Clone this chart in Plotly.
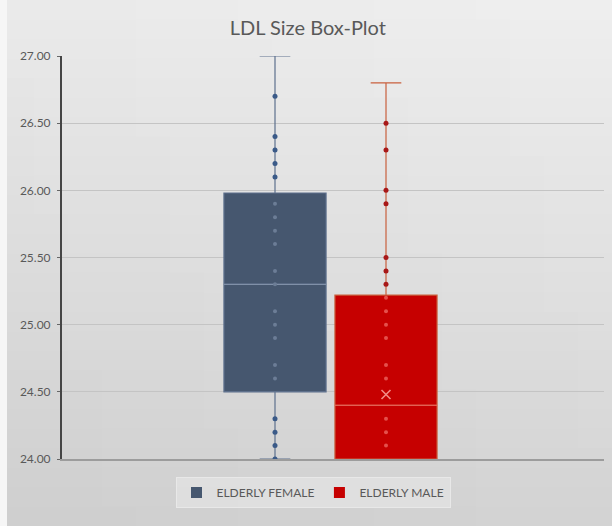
import plotly.graph_objects as go

# ---- data -------------------------------------------------------------
groups = ["ELDERLY FEMALE", "ELDERLY MALE"]

female_points = [26.7, 26.4, 26.3, 26.2, 26.1, 25.9, 25.8, 25.7, 25.6, 25.4,
                 25.3, 25.1, 25.0, 24.9, 24.7, 24.6, 24.3, 24.2, 24.1, 24.0]
male_points = [26.5, 26.3, 26.0, 25.9, 25.5, 25.4, 25.3, 25.2, 25.1, 25.0,
               24.9, 24.7, 24.6, 24.3, 24.2, 24.1]

# box statistics: [female, male]
q1_vals = [24.50, 24.00]
median_vals = [25.30, 24.40]
q3_vals = [25.98, 25.22]
lower_vals = [24.00, 24.00]
upper_vals = [27.00, 26.80]
male_mean = 24.48

y_ticks = [24.0, 24.5, 25.0, 25.5, 26.0, 26.5, 27.0]

# ---- styling ----------------------------------------------------------
W, H = 612, 526
ML, MR, MT, MB = 62, 8, 56, 67
positions = [-0.5, 0.5]
box_w = 0.92
fills = ["#46576F", "#C60000"]
edge = ["#5E718E", "#C9603E"]
median_col = ["#8090A8", "#EC6A60"]
dot_out = ["#3A5A88", "#A81818"]
dot_in = ["#6C7D96", "#E4504C"]
text_col = "#595959"
font_fam = "Lato, 'Open Sans', Arial, sans-serif"

fig = go.Figure()

# soft diagonal grey gradient behind everything
pw, ph = W - ML - MR, H - MT - MB
cols, rows = 18, 27
shapes = []
for i in range(cols):
    for j in range(rows):
        x0p, x1p = i * W / cols, (i + 1) * W / cols
        y0p, y1p = j * H / rows, (j + 1) * H / rows  # from top
        cx, cy = (x0p + x1p) / 2 / W, (y0p + y1p) / 2 / H
        v = int(round(234 + 5 * cx - 28 * cy))
        shapes.append(dict(
            type="rect", xref="paper", yref="paper", layer="below",
            x0=(x0p - ML) / pw, x1=(x1p + 1 - ML) / pw,
            y0=(H - MB - y1p - 1) / ph, y1=(H - MB - y0p) / ph,
            fillcolor=f"rgb({v},{v},{v})", line=dict(width=0),
        ))
# thin pale strip on the left edge
shapes.append(dict(type="rect", xref="paper", yref="paper", layer="below",
                   x0=-ML / pw, x1=(7 - ML) / pw, y0=-MB / ph, y1=(H - MB) / ph,
                   fillcolor="#F6F6F6", line=dict(width=0)))

# boxes
for k in range(2):
    fig.add_trace(go.Box(
        x=[positions[k]], q1=[q1_vals[k]], median=[median_vals[k]],
        q3=[q3_vals[k]], lowerfence=[lower_vals[k]], upperfence=[upper_vals[k]],
        width=box_w, whiskerwidth=0.3, fillcolor=fills[k],
        line=dict(color=edge[k], width=1.2), boxpoints=False,
        showlegend=False, hoverinfo="skip",
    ))

# median lines
for k in range(2):
    fig.add_trace(go.Scatter(
        x=[positions[k] - box_w / 2, positions[k] + box_w / 2],
        y=[median_vals[k]] * 2, mode="lines",
        line=dict(color=median_col[k], width=1.2),
        showlegend=False, hoverinfo="skip",
    ))

# data points: darker outside the box, faint inside it
for k, pts in enumerate([female_points, male_points]):
    outside = [p for p in pts if p > q3_vals[k] or p < q1_vals[k]]
    inside = [p for p in pts if q1_vals[k] <= p <= q3_vals[k]]
    fig.add_trace(go.Scatter(
        x=[positions[k]] * len(outside), y=outside, mode="markers",
        marker=dict(color=dot_out[k], size=5), showlegend=False,
    ))
    fig.add_trace(go.Scatter(
        x=[positions[k]] * len(inside), y=inside, mode="markers",
        marker=dict(color=dot_in[k], size=4), showlegend=False,
    ))

# mean marker for the male group
fig.add_trace(go.Scatter(
    x=[positions[1]], y=[male_mean], mode="markers",
    marker=dict(symbol="x-thin-open", size=9, color="#F28C86",
                line=dict(color="#F28C86", width=1.6)),
    showlegend=False,
))

# legend entries
for k in range(2):
    fig.add_trace(go.Scatter(
        x=[None], y=[None], mode="markers", name=groups[k],
        marker=dict(symbol="square", size=11, color=fills[k]),
    ))

fig.update_layout(
    width=W, height=H,
    margin=dict(l=ML, r=MR, t=MT, b=MB, pad=0),
    paper_bgcolor="#E2E2E2", plot_bgcolor="rgba(0,0,0,0)",
    shapes=shapes,
    title=dict(text="LDL Size Box-Plot", x=0.503, xanchor="center",
               y=1 - 28 / H, yanchor="middle", yref="container",
               font=dict(family=font_fam, size=20, color=text_col)),
    font=dict(family=font_fam, color=text_col),
    legend=dict(orientation="h", x=(313 - ML) / pw, xanchor="center",
                y=-18 / ph, yanchor="top",
                bgcolor="rgba(228,228,228,0.7)", bordercolor="#E8E8E8",
                borderwidth=1, font=dict(size=12, color=text_col),
                itemwidth=30),
    showlegend=True,
)
fig.update_xaxes(
    range=[-0.5 - (275 - ML) / 111, 0.5 + (W - MR - 386) / 111],
    showgrid=False, zeroline=False, showticklabels=False,
    showline=True, linecolor="#9C9C9C", linewidth=2, fixedrange=True,
)
fig.update_yaxes(
    range=[24, 27], tickvals=y_ticks,
    ticktext=[f"{t:.2f}" for t in y_ticks],
    tickfont=dict(size=12, color=text_col),
    showgrid=True, gridcolor="#C4C4C4", gridwidth=1, zeroline=False,
    showline=True, linecolor="#454545", linewidth=2,
    ticks="outside", ticklen=3, tickcolor="#666666",
    ticklabelstandoff=4,
)

fig.write_html("out.html")
